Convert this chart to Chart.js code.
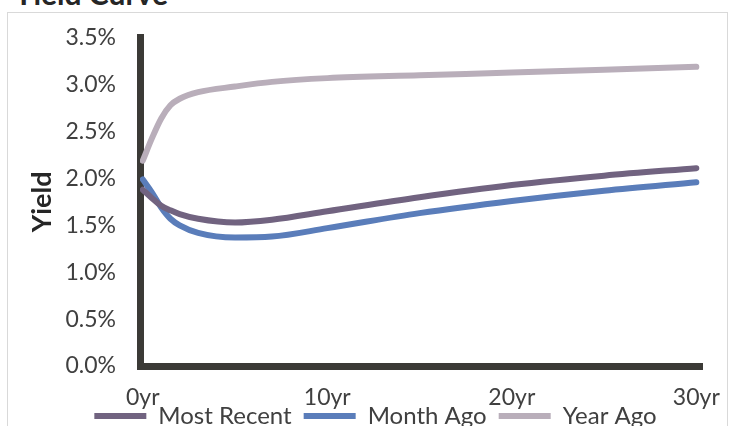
<!DOCTYPE html>
<html>
<head>
<meta charset="utf-8">
<script src="https://cdn.jsdelivr.net/npm/chart.js@4.4.1/dist/chart.umd.min.js"></script>
<style>
  html, body { margin: 0; padding: 0; background: #fff; overflow: hidden; }
  #wrap { position: relative; width: 729px; height: 426px; overflow: hidden; }
  #frame { position: absolute; left: 7px; top: 12px; width: 721px; height: 430px; border: 1px solid #d9d9d9; box-sizing: border-box; }
  #title { position: absolute; left: 14px; top: -25px; font: bold 30px Lato, sans-serif; color: #262626; }
  #chart { position: absolute; left: 0; top: 0; }
</style>
</head>
<body>
<div id="wrap">
  <div id="frame"></div>
  <div id="title">Yield Curve</div>
  <canvas id="chart" width="729" height="456"></canvas>
</div>
<script>
  // maturities in years
  const maturities = [0, 0.5, 1, 1.5, 2, 3, 5, 7, 10, 15, 20, 25, 30];
  const mostRecent = [1.88, 1.79, 1.71, 1.66, 1.62, 1.57, 1.53, 1.56, 1.65, 1.80, 1.93, 2.03, 2.11];
  const monthAgo   = [1.99, 1.85, 1.69, 1.57, 1.50, 1.42, 1.37, 1.38, 1.47, 1.63, 1.76, 1.87, 1.96];
  const yearAgo    = [2.19, 2.43, 2.64, 2.78, 2.85, 2.92, 2.98, 3.03, 3.07, 3.10, 3.13, 3.16, 3.19];
  const xTicks = [0, 10, 20, 30];

  const toPoints = vals => maturities.map((m, i) => ({ x: m, y: vals[i] }));

  const tickFont = { family: 'Lato', size: 23 };
  const legendFont = { family: 'Lato', size: 24 };
  const axisColor = '#3b3a36';

  const lineSet = (label, vals, color) => ({
    label: label,
    data: toPoints(vals),
    borderColor: color,
    backgroundColor: color,
    borderWidth: 6,
    borderCapStyle: 'round',
    borderJoinStyle: 'round',
    pointRadius: 0,
    cubicInterpolationMode: 'monotone',
    fill: false
  });

  // pull the legend up so it sits close under the x labels
  const legendLift = {
    id: 'legendLift',
    afterLayout(chart) {
      chart.legend.top -= 18;
      chart.legend.bottom -= 18;
    }
  };

  new Chart(document.getElementById('chart'), {
    type: 'line',
    data: {
      datasets: [
        lineSet('Most Recent', mostRecent, '#716380'),
        lineSet('Month Ago', monthAgo, '#5a7dba'),
        lineSet('Year Ago', yearAgo, '#b9aeba')
      ]
    },
    plugins: [legendLift],
    options: {
      responsive: false,
      animation: false,
      layout: { padding: { top: 34, left: 22, right: 0, bottom: 0 } },
      plugins: {
        legend: {
          position: 'bottom',
          labels: {
            font: legendFont,
            color: '#404040',
            usePointStyle: true,
            pointStyle: 'line',
            pointStyleWidth: 52,
            boxHeight: 6,
            padding: 12
          }
        },
        tooltip: { enabled: false }
      },
      scales: {
        x: {
          type: 'linear',
          min: -0.15,
          max: 30.2,
          afterBuildTicks: s => { s.ticks = xTicks.map(v => ({ value: v })); },
          afterFit: s => { s.height = 44; s.paddingRight = 29; },
          ticks: {
            font: tickFont,
            color: '#404040',
            padding: 18,
            maxRotation: 0,
            callback: v => v + 'yr'
          },
          grid: { display: false, drawTicks: false, lineWidth: 6 },
          border: { display: true, color: axisColor, width: 7 }
        },
        y: {
          min: 0,
          max: 3.5,
          afterFit: s => { s.width = 118; },
          ticks: {
            font: tickFont,
            color: '#404040',
            stepSize: 0.5,
            padding: 24,
            callback: v => v.toFixed(1) + '%'
          },
          title: {
            display: true,
            text: 'Yield',
            font: { family: 'Lato', size: 27, weight: 'bold' },
            color: '#262626',
            padding: { top: 4, bottom: 0 }
          },
          grid: { display: false, drawTicks: false, lineWidth: 7 },
          border: { display: true, color: axisColor, width: 7 }
        }
      }
    }
  });
</script>
</body>
</html>
